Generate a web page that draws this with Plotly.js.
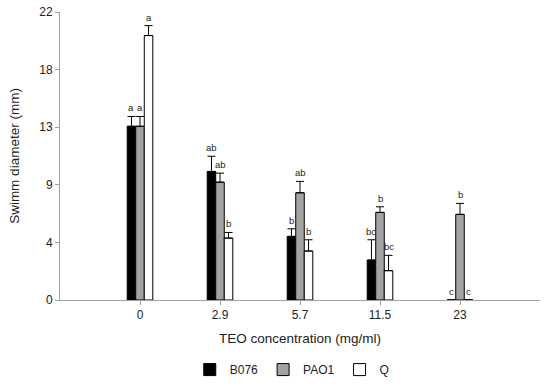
<!DOCTYPE html>
<html><head><meta charset="utf-8">
<script src="https://cdn.plot.ly/plotly-3.0.1.min.js"></script>
<style>html,body{margin:0;padding:0;background:#fff}#chart{width:550px;height:387px}</style>
</head><body><div id="chart"></div>
<script>
const categories = ["0", "2.9", "5.7", "11.5", "23"];
const seriesNames = ["B076", "PAO1", "Q"];
const b076 = [13.27, 9.82, 4.86, 3.05, 0];
const pao1 = [13.27, 9.0, 8.19, 6.69, 6.54];
const q    = [20.2, 4.73, 3.74, 2.24, 0];
const b076Err = [0.75, 1.16, 0.58, 1.55, 0];
const pao1Err = [0.75, 0.69, 0.87, 0.43, 0.84];
const qErr    = [0.76, 0.43, 0.86, 1.17, 0];
const b076Letters = ["a", "ab", "b", "bc", "c"];
const pao1Letters = ["a", "ab", "ab", "b", "b"];
const qLetters    = ["a", "b", "b", "bc", "c"];
const yTickVals = [0, 4.4, 8.8, 13.2, 17.6, 22];
const yTickText = ["0", "4", "9", "13", "18", "22"];

const values = [b076, pao1, q];
const errs = [b076Err, pao1Err, qErr];
const letters = [b076Letters, pao1Letters, qLetters];
const fills = ["#000000", "#a3a3a3", "#ffffff"];

const bargap = 0.68;
const barW = (1 - bargap) / 3;
const FONT = "Arial, Liberation Sans, sans-serif";

const traces = seriesNames.map((n, i) => ({
  type: "bar", name: n, x: categories, y: values[i],
  marker: {color: fills[i], line: {color: "#000", width: 1}},
  error_y: {type: "data", symmetric: false, array: errs[i], arrayminus: errs[i].map(() => 0),
            color: "#000", thickness: 1, width: 4}
}));

const annotations = [];
seriesNames.forEach((n, i) => {
  categories.forEach((c, j) => {
    annotations.push({
      xref: "x", yref: "y", x: j + (i - 1) * barW, y: values[i][j] + errs[i][j],
      text: letters[i][j], showarrow: false, yanchor: "bottom", yshift: 1,
      font: {family: FONT, size: 9.5, color: "#222"}
    });
  });
});

const layout = {
  width: 550, height: 387,
  margin: {l: 60, r: 10, t: 12, b: 87, autoexpand: false},
  paper_bgcolor: "#fff", plot_bgcolor: "#fff",
  font: {family: FONT, size: 12, color: "#222"},
  barmode: "group", bargap: bargap, bargroupgap: 0,
  showlegend: true,
  legend: {orientation: "h", xref: "container", yref: "container", x: 0.345, xanchor: "left",
           y: 0.045, yanchor: "middle", font: {size: 12, color: "#222"}, traceorder: "normal"},
  xaxis: {type: "category", range: [-1, 5], showline: true, linecolor: "#a0a0a0", linewidth: 1,
          ticks: "outside", ticklen: 4, tickcolor: "#a0a0a0", showgrid: false, zeroline: false,
          tickfont: {size: 12, color: "#222"},
          title: {text: "TEO concentration (mg/ml)", font: {size: 13.5, color: "#222"}, standoff: 12}},
  yaxis: {range: [0, 22], tickvals: yTickVals, ticktext: yTickText, showline: true,
          linecolor: "#a0a0a0", linewidth: 1, ticks: "outside", ticklen: 4, tickcolor: "#a0a0a0",
          showgrid: false, zeroline: false, tickfont: {size: 12, color: "#222"},
          title: {text: "Swimm diameter (mm)", font: {size: 13.5, color: "#222"}, standoff: 16}},
  annotations: annotations
};

Plotly.newPlot("chart", traces, layout, {staticPlot: true, displayModeBar: false});
</script>
</body></html>
